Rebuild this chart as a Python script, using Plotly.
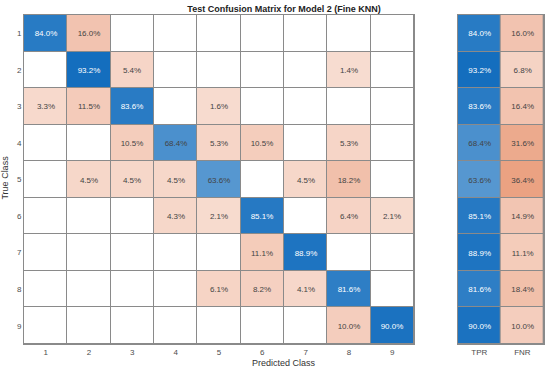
import plotly.graph_objects as go

classes = [1, 2, 3, 4, 5, 6, 7, 8, 9]
# row-normalized confusion matrix (percent); None = empty cell
cm = [
    [84.0, 16.0, None, None, None, None, None, None, None],
    [None, 93.2, 5.4, None, None, None, None, 1.4, None],
    [3.3, 11.5, 83.6, None, 1.6, None, None, None, None],
    [None, None, 10.5, 68.4, 5.3, 10.5, None, 5.3, None],
    [None, 4.5, 4.5, 4.5, 63.6, None, 4.5, 18.2, None],
    [None, None, None, 4.3, 2.1, 85.1, None, 6.4, 2.1],
    [None, None, None, None, None, 11.1, 88.9, None, None],
    [None, None, None, None, 6.1, 8.2, 4.1, 81.6, None],
    [None, None, None, None, None, None, None, 10.0, 90.0],
]
tpr = [84.0, 93.2, 83.6, 68.4, 63.6, 85.1, 88.9, 81.6, 90.0]
fnr = [16.0, 6.8, 16.4, 31.6, 36.4, 14.9, 11.1, 18.4, 10.0]
summary_labels = ["TPR", "FNR"]

FONT = "Liberation Sans, Arial, sans-serif"
GRID = "#8a8a8a"
BLUE = (20, 110, 190)
ORANGE = (217, 83, 25)


def blend(base, f):
    return "rgb(%d,%d,%d)" % tuple(round(255 - f * (255 - c)) for c in base)


def fmt(z):
    return [["" if v is None else "%.1f%%" % v for v in row] for row in z]


blue_scale = [[0, blend(BLUE, 0.12)], [0.932, blend(BLUE, 1.0)], [1, blend(BLUE, 1.0)]]
orange_scale = [[0, blend(ORANGE, 0.19)], [0.839, blend(ORANGE, 1.0)], [1, blend(ORANGE, 1.0)]]
white_scale = [[0, "white"], [1, "white"]]

n = len(classes)
diag = [[cm[i][j] if (i == j and cm[i][j] is not None) else None for j in range(n)] for i in range(n)]
off = [[cm[i][j] if (i != j and cm[i][j] is not None) else None for j in range(n)] for i in range(n)]
blank = [[0] * n for _ in range(n)]
tpr_z = [[v, None] for v in tpr]
fnr_z = [[None, v] for v in fnr]

common = dict(xgap=1, ygap=1, showscale=False, zmin=0, zmax=100,
              texttemplate="%{text}", textfont=dict(family=FONT, size=8),
              hovertemplate="%{y}, %{x}: %{text}<extra></extra>")

fig = go.Figure()
fig.add_trace(go.Heatmap(x=classes, y=classes, z=blank, colorscale=white_scale,
                         xgap=1, ygap=1, showscale=False, hoverinfo="skip"))
fig.add_trace(go.Heatmap(x=classes, y=classes, z=diag, text=fmt(diag),
                         colorscale=blue_scale, **common))
fig.add_trace(go.Heatmap(x=classes, y=classes, z=off, text=fmt(off),
                         colorscale=orange_scale, **common))
fig.add_trace(go.Heatmap(x=summary_labels, y=classes, z=tpr_z, text=fmt(tpr_z),
                         colorscale=blue_scale, xaxis="x2", yaxis="y2", **common))
fig.add_trace(go.Heatmap(x=summary_labels, y=classes, z=fnr_z, text=fmt(fnr_z),
                         colorscale=orange_scale, xaxis="x2", yaxis="y2", **common))

axis_common = dict(showgrid=False, zeroline=False, ticks="", showline=True, mirror=True,
                   linecolor=GRID, linewidth=1,
                   tickfont=dict(family=FONT, size=8, color="#4d4d4d"))

fig.update_layout(
    width=550, height=371,
    margin=dict(l=24, r=6, t=15, b=27),
    paper_bgcolor="white", plot_bgcolor=GRID,
    font=dict(family=FONT, color="#333"),
    showlegend=False,
    title=dict(text="<b>Test Confusion Matrix for Model 2 (Fine KNN)</b>",
               x=284 / 550, xanchor="center", y=1 - 9 / 371, yanchor="middle",
               font=dict(family=FONT, size=9, color="#222")),
    xaxis=dict(domain=[0, 0.75], range=[0.5, 9.5], tickvals=classes, **axis_common),
    yaxis=dict(range=[9.5, 0.5], tickvals=classes, **axis_common),
    xaxis2=dict(domain=[0.834, 1], anchor="y2", type="category", range=[-0.5, 1.5],
                **axis_common),
    yaxis2=dict(anchor="x2", matches="y", range=[9.5, 0.5], showticklabels=False,
                **{k: v for k, v in axis_common.items() if k != "tickfont"}),
    annotations=[
        dict(text="Predicted Class", xref="paper", yref="paper", x=0.5, y=-0.0578,
             xanchor="center", yanchor="middle", showarrow=False,
             font=dict(family=FONT, size=9, color="#333")),
        dict(text="True Class", xref="paper", yref="paper", x=-0.0365, y=0.506,
             xanchor="center", yanchor="middle", textangle=-90, showarrow=False,
             font=dict(family=FONT, size=9, color="#333")),
    ],
)

fig.write_html("out.html", config={"displayModeBar": False},
               post_script="document.body.style.margin='0';")
